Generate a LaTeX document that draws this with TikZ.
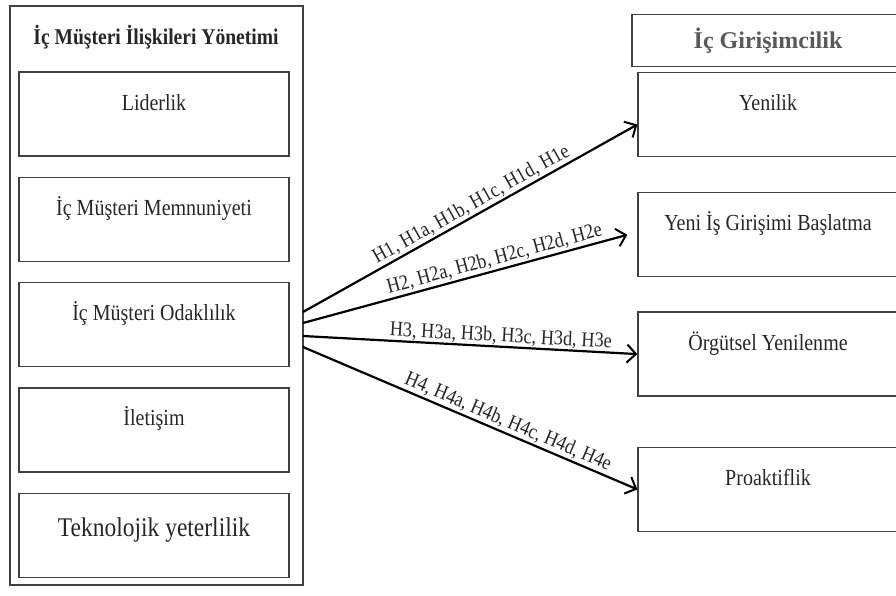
\documentclass[tikz,border=0pt]{standalone}
\usepackage{fontspec}
\setmainfont[FakeStretch=0.87]{Liberation Serif}
\newfontfamily\headfont{Liberation Serif}
\usetikzlibrary{positioning,arrows.meta}

\begin{document}
\begin{tikzpicture}[
  x=1pt, y=-1pt,
  node distance=20pt and 20pt,
  boxline/.style={draw=black!75,line width=1.3pt},
  leftbox/.style={boxline,minimum width=270pt,inner xsep=0pt,inner ysep=0pt,text height=38pt,text depth=46pt,font=\fontsize{23}{26}\selectfont,text=black!85},
  rightbox/.style={leftbox,minimum width=260pt},
  hyp/.style={-{Straight Barb[length=9pt,width=18pt,line width=2pt]},line width=2.2pt},
  hyplabel/.style={sloped,above,inner sep=1.5pt,font=\fontsize{21}{23}\selectfont,text=black!85}
]
\useasboundingbox (0,0) rectangle (896,595);

% left side
\node[boxline,minimum width=293pt,minimum height=579pt,inner sep=0pt] (imy) at (156.5,295.5) {};
\node[anchor=base,font=\bfseries\fontsize{22.5}{24}\selectfont,text=black!85] (imyt) at (156,44) {İç Müşteri İlişkileri Yönetimi};

\node[leftbox] (lid) at (154,114) {Liderlik};
\node[leftbox, below=of lid] (mem) {İç Müşteri Memnuniyeti};
\node[leftbox, below=of mem] (oda) {İç Müşteri Odaklılık};
\node[leftbox, below=of oda] (ile) {İletişim};
\node[leftbox, below=of ile, text height=43pt, text depth=41pt, font=\fontsize{27}{30}\selectfont] (tek) {Teknolojik yeterlilik};

% right side
\node[rightbox] (yen) at (768,114.5) {Yenilik};
\node[boxline,minimum width=272pt,minimum height=52pt,font=\headfont\bfseries\fontsize{24}{26}\selectfont,text=black!65,above=5pt of yen] (icg) {İç Girişimcilik};
\node[rightbox, below=35pt of yen] (yis) {Yeni İş Girişimi Başlatma};
\node[rightbox, below=34pt of yis] (org) {Örgütsel Yenilenme};
\node[rightbox, below=50pt of org] (pro) {Proaktiflik};

% hypotheses
\coordinate (s1) at (303,312);
\coordinate (s2) at (303,323);
\coordinate (s3) at (303,336);
\coordinate (s4) at (303,347);

\draw[hyp] (s1) -- node[hyplabel,pos=0.52] (h1) {H1, H1a, H1b, H1c, H1d, H1e} ([yshift=-10pt]yen.west);
\draw[hyp] (s2) -- node[hyplabel,pos=0.6] (h2) {H2, H2a, H2b, H2c, H2d, H2e} ([xshift=-10pt]yis.west);
\draw[hyp] (s3) -- node[hyplabel,pos=0.59,inner sep=0.5pt] (h3) {H3, H3a, H3b, H3c, H3d, H3e} (org.west);
\draw[hyp] (s4) -- node[hyplabel,pos=0.6] (h4) {H4, H4a, H4b, H4c, H4d, H4e} (pro.west);

\end{tikzpicture}
\end{document}
